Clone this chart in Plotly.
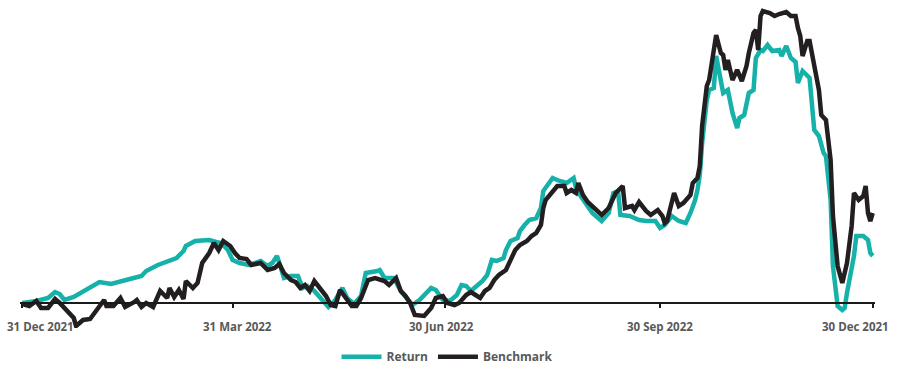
import plotly.graph_objects as go

# ---- data (arbitrary units ~ %) ----
return_dates = [
    "2021-12-31", "2022-01-06", "2022-01-11", "2022-01-14", "2022-01-16", "2022-01-18",
    "2022-01-22", "2022-01-26", "2022-01-30", "2022-02-02", "2022-02-07", "2022-02-11",
    "2022-02-15", "2022-02-20", "2022-02-22", "2022-02-27", "2022-03-03", "2022-03-07",
    "2022-03-10", "2022-03-11", "2022-03-15", "2022-03-21", "2022-03-24", "2022-03-26",
    "2022-03-29", "2022-03-31", "2022-04-03", "2022-04-07", "2022-04-12", "2022-04-15",
    "2022-04-17", "2022-04-19", "2022-04-20", "2022-04-22", "2022-04-25", "2022-04-28",
    "2022-04-30", "2022-05-02", "2022-05-05", "2022-05-07", "2022-05-11", "2022-05-14",
    "2022-05-17", "2022-05-19", "2022-05-22", "2022-05-25", "2022-05-27", "2022-06-01",
    "2022-06-02", "2022-06-04", "2022-06-08", "2022-06-11", "2022-06-14", "2022-06-16",
    "2022-06-19", "2022-06-22", "2022-06-24", "2022-06-26", "2022-06-29", "2022-07-02",
    "2022-07-05", "2022-07-07", "2022-07-09", "2022-07-11", "2022-07-14", "2022-07-16",
    "2022-07-18", "2022-07-20", "2022-07-22", "2022-07-25", "2022-07-26", "2022-07-28",
    "2022-07-31", "2022-08-01", "2022-08-03", "2022-08-05", "2022-08-08", "2022-08-10",
    "2022-08-11", "2022-08-13", "2022-08-15", "2022-08-18", "2022-08-21", "2022-08-24",
    "2022-08-25", "2022-08-27", "2022-08-30", "2022-09-01", "2022-09-05", "2022-09-08",
    "2022-09-10", "2022-09-12", "2022-09-13", "2022-09-17", "2022-09-21", "2022-09-24",
    "2022-09-28", "2022-09-30", "2022-10-02", "2022-10-05", "2022-10-08", "2022-10-11",
    "2022-10-13", "2022-10-15", "2022-10-16", "2022-10-17", "2022-10-18", "2022-10-20",
    "2022-10-21", "2022-10-23", "2022-10-24", "2022-10-26", "2022-10-27", "2022-10-29",
    "2022-10-31", "2022-11-02", "2022-11-03", "2022-11-05", "2022-11-07", "2022-11-09",
    "2022-11-10", "2022-11-12", "2022-11-13", "2022-11-15", "2022-11-17", "2022-11-20",
    "2022-11-21", "2022-11-23", "2022-11-25", "2022-11-27", "2022-11-28", "2022-11-30",
    "2022-12-03", "2022-12-05", "2022-12-07", "2022-12-09", "2022-12-10", "2022-12-12",
    "2022-12-13", "2022-12-15", "2022-12-17", "2022-12-18", "2022-12-19", "2022-12-22",
    "2022-12-23", "2022-12-26", "2022-12-28", "2022-12-29", "2022-12-30",
]
return_values = [
    0.0, 0.2, 0.5, 1.1, 0.9, 0.3,
    0.6, 1.1, 1.7, 2.1, 1.9, 2.1,
    2.4, 2.7, 3.2, 3.8, 4.2, 4.5,
    5.2, 5.7, 6.2, 6.3, 6.1, 6.0,
    5.3, 4.3, 4.0, 3.8, 4.2, 3.7,
    4.0, 4.7, 4.0, 2.5, 2.7, 2.7,
    1.5, 1.7, 1.2, 0.7, -0.4, 0.3,
    1.5, 0.5, -0.1, 0.7, 3.0, 3.2,
    3.3, 2.5, 2.5, 1.2, 0.3, -0.2,
    0.3, 1.0, 1.5, 1.3, 0.3, 0.2,
    0.8, 1.8, 1.7, 1.2, 1.8, 2.2,
    2.8, 4.3, 4.2, 4.5, 5.3, 6.2,
    6.5, 7.2, 7.8, 8.3, 8.5, 9.5,
    11.2, 11.8, 12.5, 12.2, 12.0, 12.5,
    11.5, 10.7, 9.7, 9.0, 8.2, 9.0,
    11.0, 11.2, 8.8, 8.7, 8.3, 8.2,
    8.2, 7.5, 7.8, 8.7, 8.2, 8.0,
    9.0, 10.3, 11.3, 12.8, 16.0, 20.3,
    21.3, 21.5, 24.7, 22.3, 21.0, 21.3,
    19.0, 17.5, 18.5, 18.8, 21.0, 21.3,
    24.5, 25.3, 25.2, 25.8, 25.2, 25.3,
    24.7, 25.7, 24.5, 24.1, 22.0, 23.2,
    22.5, 17.3, 16.7, 15.0, 14.7, 10.3,
    3.7, -0.3, -0.7, -0.5, 1.0, 4.7,
    6.7, 6.7, 6.3, 5.0, 4.7,
]

benchmark_dates = [
    "2021-12-31", "2022-01-03", "2022-01-06", "2022-01-08", "2022-01-11", "2022-01-14",
    "2022-01-16", "2022-01-19", "2022-01-22", "2022-01-23", "2022-01-26", "2022-01-29",
    "2022-01-31", "2022-02-04", "2022-02-05", "2022-02-08", "2022-02-11", "2022-02-13",
    "2022-02-17", "2022-02-18", "2022-02-20", "2022-02-22", "2022-02-25", "2022-02-28",
    "2022-03-03", "2022-03-04", "2022-03-06", "2022-03-08", "2022-03-10", "2022-03-11",
    "2022-03-14", "2022-03-16", "2022-03-18", "2022-03-21", "2022-03-23", "2022-03-25",
    "2022-03-27", "2022-03-30", "2022-04-01", "2022-04-03", "2022-04-06", "2022-04-08",
    "2022-04-12", "2022-04-15", "2022-04-18", "2022-04-20", "2022-04-22", "2022-04-25",
    "2022-04-27", "2022-04-29", "2022-05-01", "2022-05-03", "2022-05-05", "2022-05-08",
    "2022-05-10", "2022-05-12", "2022-05-14", "2022-05-16", "2022-05-18", "2022-05-21",
    "2022-05-23", "2022-05-25", "2022-05-28", "2022-05-31", "2022-06-04", "2022-06-06",
    "2022-06-09", "2022-06-11", "2022-06-13", "2022-06-15", "2022-06-17", "2022-06-19",
    "2022-06-21", "2022-06-24", "2022-06-26", "2022-06-29", "2022-07-01", "2022-07-04",
    "2022-07-06", "2022-07-09", "2022-07-11", "2022-07-13", "2022-07-15", "2022-07-17",
    "2022-07-19", "2022-07-21", "2022-07-23", "2022-07-26", "2022-07-28", "2022-07-30",
    "2022-08-01", "2022-08-04", "2022-08-06", "2022-08-08", "2022-08-10", "2022-08-11",
    "2022-08-12", "2022-08-15", "2022-08-17", "2022-08-20", "2022-08-21", "2022-08-23",
    "2022-08-25", "2022-08-26", "2022-08-28", "2022-08-30", "2022-09-01", "2022-09-03",
    "2022-09-05", "2022-09-08", "2022-09-11", "2022-09-14", "2022-09-15", "2022-09-18",
    "2022-09-19", "2022-09-21", "2022-09-24", "2022-09-26", "2022-09-29", "2022-10-01",
    "2022-10-02", "2022-10-03", "2022-10-05", "2022-10-06", "2022-10-08", "2022-10-10",
    "2022-10-13", "2022-10-14", "2022-10-16", "2022-10-17", "2022-10-18", "2022-10-20",
    "2022-10-21", "2022-10-23", "2022-10-24", "2022-10-26", "2022-10-27", "2022-10-28",
    "2022-10-29", "2022-10-31", "2022-11-02", "2022-11-04", "2022-11-06", "2022-11-07",
    "2022-11-09", "2022-11-10", "2022-11-11", "2022-11-12", "2022-11-13", "2022-11-16",
    "2022-11-18", "2022-11-20", "2022-11-23", "2022-11-25", "2022-11-27", "2022-11-28",
    "2022-11-29", "2022-11-30", "2022-12-02", "2022-12-03", "2022-12-05", "2022-12-07",
    "2022-12-08", "2022-12-10", "2022-12-12", "2022-12-13", "2022-12-15", "2022-12-16",
    "2022-12-17", "2022-12-19", "2022-12-21", "2022-12-22", "2022-12-24", "2022-12-26",
    "2022-12-27", "2022-12-28", "2022-12-29", "2022-12-30",
]
benchmark_values = [
    -0.1, -0.3, 0.2, -0.5, -0.5, 0.4,
    0.0, -0.7, -1.5, -2.3, -1.7, -1.6,
    -1.0, 0.3, -0.3, -0.3, 0.5, -0.4,
    0.1, 0.3, -0.4, 0.0, -0.4, 1.2,
    0.5, 1.5, 0.6, 1.3, 0.4, 2.2,
    1.5, 2.0, 4.0, 5.0, 6.0, 5.3,
    6.2, 5.7, 5.0, 4.5, 4.4, 3.8,
    4.0, 3.3, 3.5, 3.9, 3.0, 2.3,
    2.1, 1.5, 1.8, 1.2, 2.2, 1.2,
    0.7, -0.2, -0.3, 1.3, 0.7, -0.3,
    -0.3, 0.5, 2.3, 2.5, 2.2, 1.8,
    2.5, 1.2, 0.7, 0.0, -1.2, -1.3,
    -1.3, -0.5, 0.5, 0.7, 0.0, -0.2,
    0.0, 0.8, 1.1, 0.8, 0.5, 1.2,
    1.5, 2.3, 2.8, 3.3, 4.3, 5.3,
    5.8, 6.2, 6.7, 7.0, 7.8, 9.5,
    10.3, 11.2, 11.7, 11.7, 11.0, 11.3,
    11.0, 12.0, 10.8, 10.1, 9.7, 9.2,
    8.8, 9.5, 11.0, 11.7, 9.5, 9.7,
    9.3, 10.1, 9.2, 8.8, 9.3, 8.7,
    8.0, 8.2, 10.2, 11.0, 9.7, 10.0,
    10.8, 12.0, 12.5, 13.7, 17.7, 21.7,
    22.3, 25.3, 26.8, 25.0, 24.8, 23.3,
    24.3, 22.3, 23.3, 22.2, 23.7, 25.0,
    27.0, 27.3, 25.3, 28.7, 29.2, 29.0,
    28.7, 28.9, 29.1, 28.7, 28.7, 27.5,
    26.7, 24.7, 26.2, 26.2, 23.7, 21.3,
    18.8, 18.3, 14.3, 8.7, 3.7, 2.7,
    2.0, 4.0, 7.7, 11.0, 10.3, 10.7,
    11.7, 9.0, 8.2, 9.0,
]

tick_dates = ["2021-12-31", "2022-03-31", "2022-06-30", "2022-09-30", "2022-12-30"]
tick_labels = ["31 Dec 2021", "31 Mar 2022", "30 Jun 2022", "30 Sep 2022", "30 Dec 2021"]
# horizontal nudges so the edge labels stay inside the page, as in the original
tick_label_shift = [18, 5, -4, 0, -17]

TEAL = "#16b1a9"
BLACK = "#231f20"
GREY = "#595959"
FONT = "Open Sans"

fig = go.Figure()
fig.add_trace(go.Scatter(
    x=return_dates, y=return_values, name="Return", mode="lines",
    line=dict(color=TEAL, width=4.5),
))
fig.add_trace(go.Scatter(
    x=benchmark_dates, y=benchmark_values, name="Benchmark", mode="lines",
    line=dict(color=BLACK, width=4.5),
))

Y_MIN, Y_MAX = -2.5, 30.0
zero_pos = (0 - Y_MIN) / (Y_MAX - Y_MIN)

for d, t, s in zip(tick_dates, tick_labels, tick_label_shift):
    fig.add_annotation(
        x=d, y=0, xref="x", yref="y", text=t, showarrow=False,
        xanchor="center", yanchor="top", xshift=s, yshift=-14,
        font=dict(family=FONT, size=11.5, color=GREY, weight="bold"),
    )

fig.update_layout(
    width=901, height=366,
    margin=dict(l=20, r=26, t=3, b=38, autoexpand=False),
    paper_bgcolor="white", plot_bgcolor="white",
    showlegend=True,
    legend=dict(
        orientation="h", x=0.5, xanchor="center",
        yref="container", y=0.065, yanchor="top",
        font=dict(family=FONT, size=12, color=GREY, weight="bold"),
        itemwidth=40, traceorder="normal",
    ),
    xaxis=dict(
        type="date",
        range=["2021-12-30", "2022-12-31"],
        anchor="free", position=zero_pos,
        showline=True, linecolor="#1a1a1a", linewidth=1.5,
        showgrid=False, zeroline=False,
        ticks="outside", ticklen=4, tickwidth=1.5, tickcolor="#1a1a1a",
        tickvals=tick_dates, showticklabels=False,
    ),
    yaxis=dict(
        range=[Y_MIN, Y_MAX], visible=False, showgrid=False, zeroline=False,
    ),
)

fig.write_html("out.html")
